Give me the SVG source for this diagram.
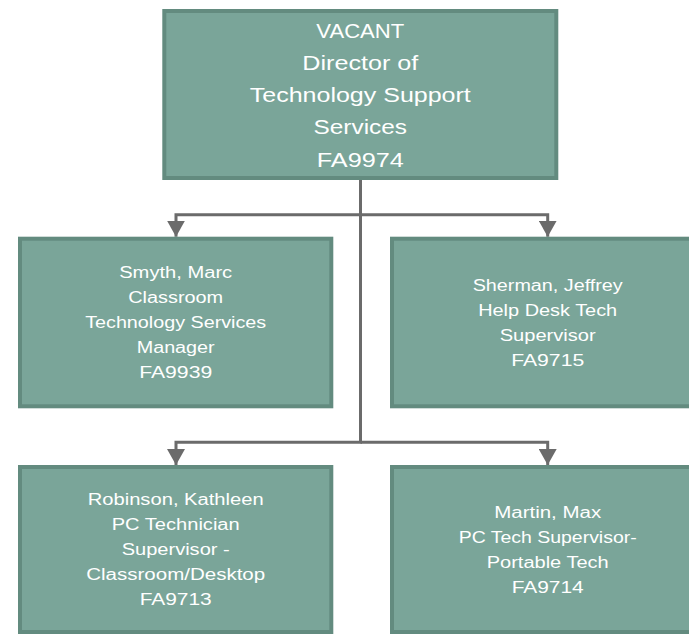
<svg xmlns="http://www.w3.org/2000/svg" width="689" height="635" viewBox="0 0 689 635">
<style>
.box{fill:#7aa599;stroke:#638b7f;stroke-width:4}
.t{font-family:"Liberation Sans",Arial,sans-serif;fill:#ffffff;text-anchor:middle}
.top{font-size:20px}
.sub{font-size:16px}
.conn{fill:none;stroke:#6b6b6b;stroke-width:3}
</style>
<defs>
<marker id="arr" markerUnits="userSpaceOnUse" markerWidth="16" markerHeight="18" viewBox="0 0 16 18" refX="16" refY="9" orient="auto">
<polygon points="0,0 16,9 0,18" fill="#6b6b6b"/>
</marker>
</defs>
<g id="connectors">
<path class="conn" d="M360.5,180 V214.7 H176 V236.7" marker-end="url(#arr)"/>
<path class="conn" d="M360.5,180 V214.7 H547.7 V236.7" marker-end="url(#arr)"/>
<path class="conn" d="M360.5,214.7 V442.3 H176 V465" marker-end="url(#arr)"/>
<path class="conn" d="M360.5,442.3 H547.7 V465" marker-end="url(#arr)"/>
</g>
<g id="director">
<rect class="box" x="164.3" y="11" width="392" height="167"/>
<text class="t top" x="360.3" y="37.5" textLength="88" lengthAdjust="spacingAndGlyphs">VACANT</text>
<text class="t top" x="360.3" y="69.8" textLength="116" lengthAdjust="spacingAndGlyphs">Director of</text>
<text class="t top" x="360.3" y="102.1" textLength="221" lengthAdjust="spacingAndGlyphs">Technology Support</text>
<text class="t top" x="360.3" y="134.4" textLength="93.5" lengthAdjust="spacingAndGlyphs">Services</text>
<text class="t top" x="360.3" y="166.7" textLength="87" lengthAdjust="spacingAndGlyphs">FA9974</text>
</g>
<g id="smyth">
<rect class="box" x="20" y="238.7" width="311.3" height="167.6"/>
<text class="t sub" x="175.7" y="278.3" textLength="113" lengthAdjust="spacingAndGlyphs">Smyth, Marc</text>
<text class="t sub" x="175.7" y="303.3" textLength="95" lengthAdjust="spacingAndGlyphs">Classroom</text>
<text class="t sub" x="175.7" y="328.3" textLength="181" lengthAdjust="spacingAndGlyphs">Technology Services</text>
<text class="t sub" x="175.7" y="353.3" textLength="78" lengthAdjust="spacingAndGlyphs">Manager</text>
<text class="t sub" x="175.7" y="378.3" textLength="73" lengthAdjust="spacingAndGlyphs">FA9939</text>
</g>
<g id="sherman">
<rect class="box" x="392" y="238.7" width="311.3" height="167.6"/>
<text class="t sub" x="547.7" y="290.8" textLength="150" lengthAdjust="spacingAndGlyphs">Sherman, Jeffrey</text>
<text class="t sub" x="547.7" y="315.8" textLength="139" lengthAdjust="spacingAndGlyphs">Help Desk Tech</text>
<text class="t sub" x="547.7" y="340.8" textLength="96" lengthAdjust="spacingAndGlyphs">Supervisor</text>
<text class="t sub" x="547.7" y="365.8" textLength="73" lengthAdjust="spacingAndGlyphs">FA9715</text>
</g>
<g id="robinson">
<rect class="box" x="20" y="467" width="311.3" height="165"/>
<text class="t sub" x="175.7" y="505.3" textLength="176" lengthAdjust="spacingAndGlyphs">Robinson, Kathleen</text>
<text class="t sub" x="175.7" y="530.3" textLength="128" lengthAdjust="spacingAndGlyphs">PC Technician</text>
<text class="t sub" x="175.7" y="555.3" textLength="108" lengthAdjust="spacingAndGlyphs">Supervisor -</text>
<text class="t sub" x="175.7" y="580.3" textLength="179" lengthAdjust="spacingAndGlyphs">Classroom/Desktop</text>
<text class="t sub" x="175.7" y="605.3" textLength="72" lengthAdjust="spacingAndGlyphs">FA9713</text>
</g>
<g id="martin">
<rect class="box" x="392" y="467" width="311.3" height="165"/>
<text class="t sub" x="547.7" y="517.8" textLength="107" lengthAdjust="spacingAndGlyphs">Martin, Max</text>
<text class="t sub" x="547.7" y="542.8" textLength="178" lengthAdjust="spacingAndGlyphs">PC Tech Supervisor-</text>
<text class="t sub" x="547.7" y="567.8" textLength="122" lengthAdjust="spacingAndGlyphs">Portable Tech</text>
<text class="t sub" x="547.7" y="592.8" textLength="72" lengthAdjust="spacingAndGlyphs">FA9714</text>
</g>
</svg>
